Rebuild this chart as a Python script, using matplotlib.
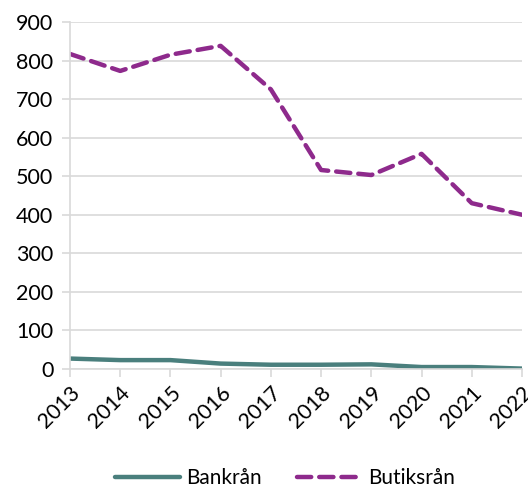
import matplotlib.pyplot as plt

plt.rcParams['font.family'] = ['Lato', 'DejaVu Sans']

years = ["2013", "2014", "2015", "2016", "2017", "2018", "2019", "2020", "2021", "2022"]
bankran = [27, 23, 23, 14, 11, 11, 12, 5, 5, 1]
butiksran = [817, 773, 815, 838, 725, 516, 503, 558, 430, 400]

grid_col = "#D9D9D9"

fig = plt.figure(figsize=(5.28, 4.88), dpi=100)
ax = fig.add_axes([0.1326, 0.2439, 0.8560, 0.7111])

x = range(len(years))
ax.plot(x, bankran, color="#4A7F7D", lw=3.2, solid_capstyle="round",
        label="Bankrån")
ax.plot(x, butiksran, color="#8E2A8C", lw=3.2, dashes=(3.2, 1.8),
        dash_capstyle="round", label="Butiksrån")

ax.set_xlim(0, len(years) - 1)
ax.set_ylim(0, 900)
ax.set_yticks(range(0, 901, 100))
ax.set_xticks(list(x))
ax.set_xticklabels(years, rotation=45, ha="right", rotation_mode="anchor")
ax.tick_params(axis="both", labelsize=15.5, color=grid_col, length=6,
               width=1.2, labelcolor="black")
ax.tick_params(axis="x", pad=4)
ax.tick_params(axis="y", pad=6)

ax.grid(axis="y", color=grid_col, lw=1.2)
ax.set_axisbelow(True)
for side in ["top", "right"]:
    ax.spines[side].set_visible(False)
for side in ["left", "bottom"]:
    ax.spines[side].set_color(grid_col)
    ax.spines[side].set_linewidth(1.2)

fig.legend(loc="center", bbox_to_anchor=(0.54, 0.02), ncol=2, frameon=False,
           fontsize=15, handlelength=3.1, columnspacing=1.7, handletextpad=0.3)

fig.savefig("out.png", dpi=100)
